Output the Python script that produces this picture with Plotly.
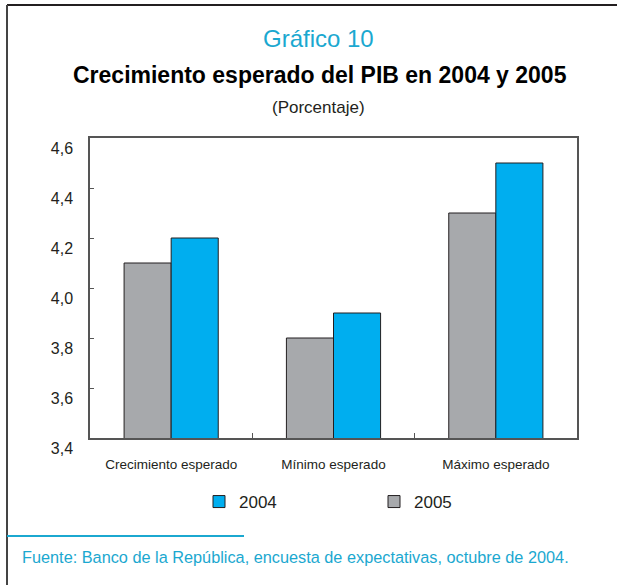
import plotly.graph_objects as go

categorias = ["Crecimiento esperado", "Mínimo esperado", "Máximo esperado"]
valores_2005 = [4.1, 3.8, 4.3]
valores_2004 = [4.2, 3.9, 4.5]
y_ticks = [3.4, 3.6, 3.8, 4.0, 4.2, 4.4, 4.6]

AZUL = "#00AEEF"
GRIS = "#A7A9AC"
CIAN = "#1BA8D0"
BORDE = "#231F20"

W, H = 617, 585
L, R, T, B = 90, 577, 138, 438  # plot area in pixels


def px_x(x):
    return (x - L) / (R - L)


def px_y(y):
    return (B - y) / (B - T)


fig = go.Figure()
fig.add_trace(go.Bar(
    x=categorias, y=valores_2005, name="2005",
    marker=dict(color=GRIS, line=dict(color=BORDE, width=1)),
))
fig.add_trace(go.Bar(
    x=categorias, y=valores_2004, name="2004",
    marker=dict(color=AZUL, line=dict(color=BORDE, width=1)),
))

fig.update_layout(
    width=W, height=H,
    margin=dict(l=L, r=W - R, t=T, b=H - B),
    paper_bgcolor="white", plot_bgcolor="white",
    barmode="group", bargap=0.42, bargroupgap=0,
    separators=",.",
    font=dict(family="Liberation Sans, Arial, sans-serif", color="#231F20"),
    showlegend=True,
    legend=dict(
        orientation="h", traceorder="reversed",
        x=px_x(199), y=px_y(502), xanchor="left", yanchor="middle",
        entrywidth=130, entrywidthmode="pixels",
        font=dict(size=17, color="#231F20"),
    ),
)

fig.update_xaxes(
    showline=True, linecolor="#555555", linewidth=1.5, mirror=True,
    ticks="inside", tickson="boundaries", ticklen=5, tickcolor="#555555",
    tickfont=dict(size=13.5), ticklabelstandoff=13,
    showgrid=False,
)
fig.update_yaxes(
    range=[3.4, 4.6], tickvals=y_ticks, tickformat=".1f",
    showline=True, linecolor="#555555", linewidth=1.5, mirror=True,
    ticks="inside", ticklen=4, tickcolor="#555555",
    tickfont=dict(size=16),
    ticklabelstandoff=12, ticklabelshift=10,
    showgrid=False, zeroline=False,
)

# titles and source
fig.add_annotation(text="Gráfico 10", x=px_x(318), y=px_y(38), xref="paper", yref="paper",
                   xanchor="center", yanchor="middle",
                   showarrow=False, font=dict(size=24, color=CIAN))
fig.add_annotation(text="<b>Crecimiento esperado del PIB en 2004 y 2005</b>", x=px_x(320), y=px_y(75),
                   xref="paper", yref="paper", xanchor="center", yanchor="middle",
                   showarrow=False, font=dict(size=23, color="#000000"))
fig.add_annotation(text="(Porcentaje)", x=px_x(318), y=px_y(108), xref="paper", yref="paper",
                   xanchor="center", yanchor="middle",
                   showarrow=False, font=dict(size=17, color="#231F20"))
fig.add_annotation(text="Fuente: Banco de la República, encuesta de expectativas, octubre de 2004.",
                   x=px_x(20), y=px_y(557), xref="paper", yref="paper", xanchor="left", yanchor="middle",
                   showarrow=False, font=dict(size=16.3, color=CIAN))

# outer frame and separator line
fig.add_shape(type="line", xref="paper", yref="paper", x0=px_x(7), x1=px_x(W), y0=px_y(5), y1=px_y(5),
              line=dict(color="#231F20", width=2))
fig.add_shape(type="line", xref="paper", yref="paper", x0=px_x(7), x1=px_x(7), y0=px_y(5), y1=px_y(H),
              line=dict(color="#444444", width=2))
fig.add_shape(type="line", xref="paper", yref="paper", x0=px_x(7), x1=px_x(244), y0=px_y(536), y1=px_y(536),
              line=dict(color=CIAN, width=2))

# the page body has a default 8px margin; drop it so the figure sits at the corner
fig.write_html("out.html", config={"displayModeBar": False},
               post_script="document.body.style.margin='0';")
